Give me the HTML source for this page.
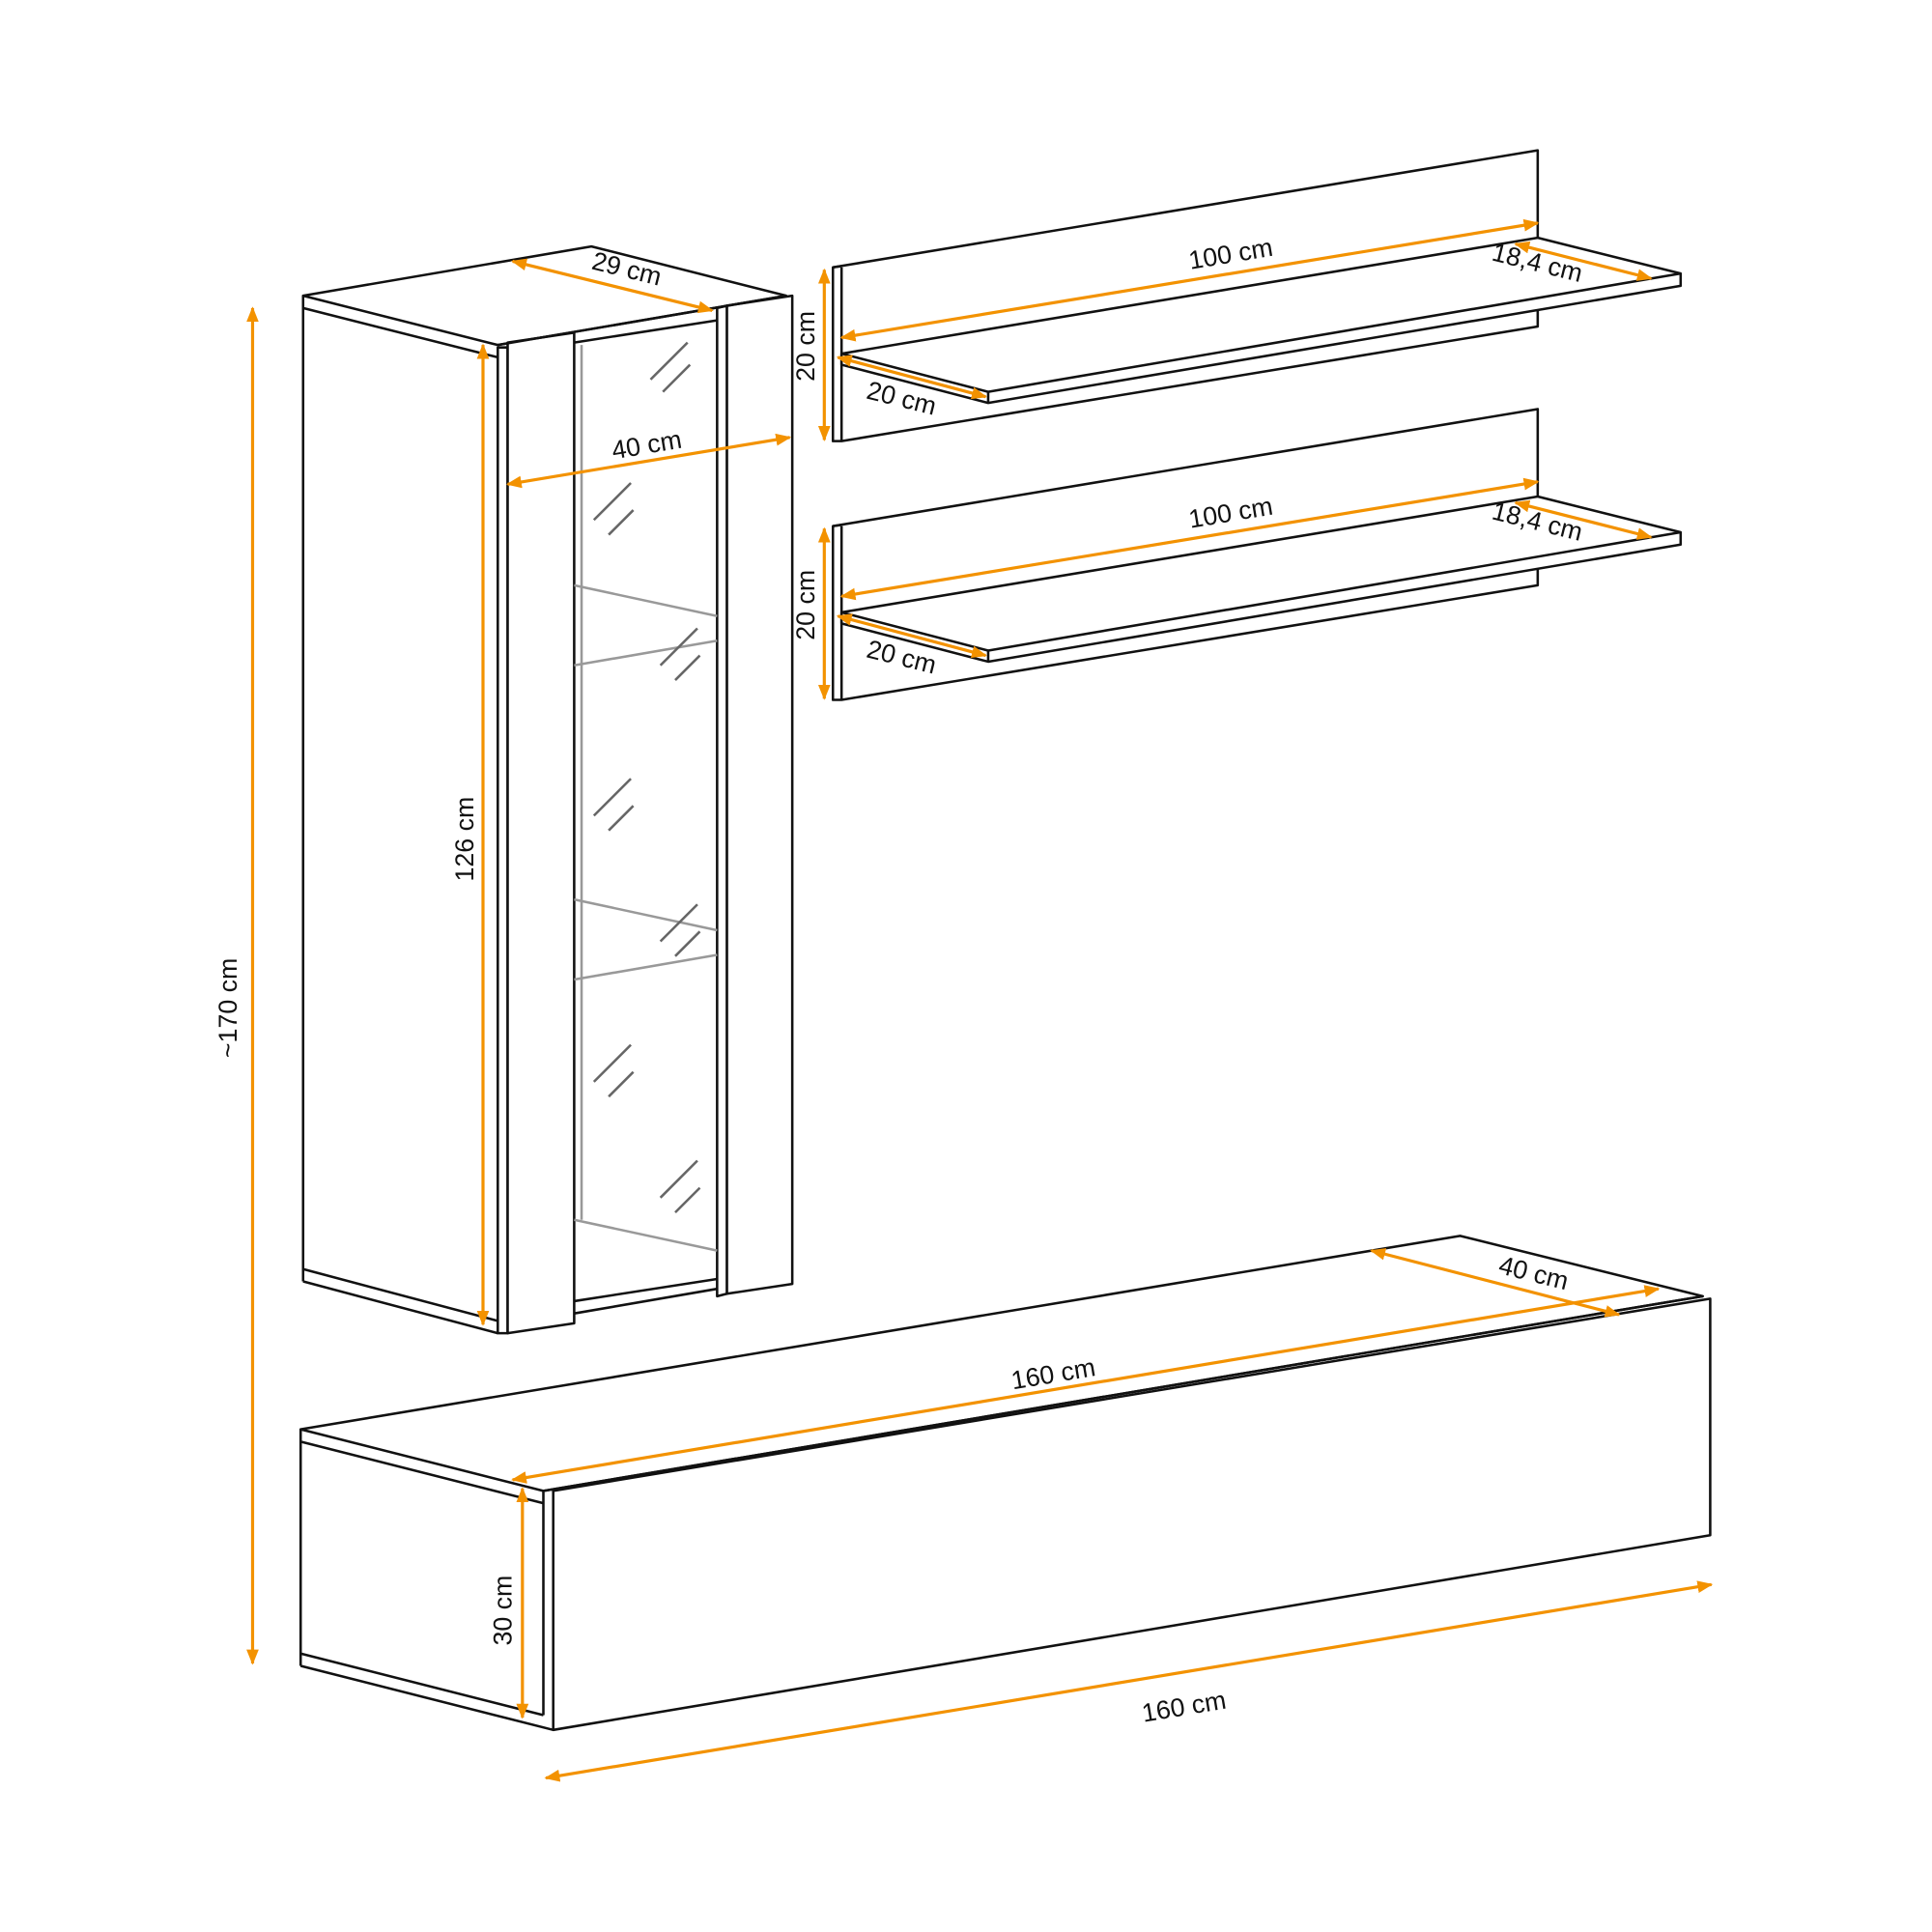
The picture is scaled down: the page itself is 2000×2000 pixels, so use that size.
<!DOCTYPE html>
<html><head><meta charset="utf-8"><style>
html,body{margin:0;padding:0;background:#fff}
svg{display:block}
text{font-family:"Liberation Sans",sans-serif;font-size:21px;fill:#111}
</style></head><body>
<svg width="2000" height="2000" viewBox="0 0 1568 1568" xmlns="http://www.w3.org/2000/svg">
<defs>
<marker id="a" viewBox="0 0 10 10" refX="9" refY="5" markerWidth="5" markerHeight="5" orient="auto-start-reverse"><path d="M0,1 L10,5 L0,9 z" fill="#f39200"/></marker>
</defs>
<g fill="none" stroke="#111" stroke-width="2" stroke-linejoin="round">
<polygon points="246,240 480,200 638,240 404,280" fill="#fff"/>
<line x1="246" y1="250" x2="404" y2="290"/>
<line x1="246" y1="240" x2="246" y2="1040"/>
<line x1="246" y1="1030" x2="404" y2="1072"/>
<line x1="246" y1="1040" x2="404" y2="1082"/>
<rect x="404" y="282" width="8" height="800"/>
<polygon points="412,278 466,270 466,1074 412,1082" fill="#fff"/>
<line x1="466" y1="278" x2="582" y2="260"/>
<line x1="466" y1="1056" x2="582" y2="1038"/>
<line x1="466" y1="1066" x2="582" y2="1046"/>
<polygon points="582,250 590,248 590,1050 582,1052"/>
<polygon points="590,248 643,240 643,1042 590,1050" fill="#fff"/>
<line x1="404" y1="280" x2="638" y2="240"/>
</g>
<g stroke="#999" stroke-width="2" fill="none">
<line x1="472" y1="280" x2="472" y2="990"/>
<line x1="466" y1="475" x2="582" y2="500"/>
<line x1="466" y1="540" x2="582" y2="520"/>
<line x1="466" y1="730" x2="582" y2="755"/>
<line x1="466" y1="795" x2="582" y2="775"/>
<line x1="466" y1="990" x2="582" y2="1015"/>
</g>
<g stroke="#666" stroke-width="2">
<path d="M528,308 l30,-30 M538,318 l22,-22 M482,422 l30,-30 M494,434 l20,-20 M536,540 l30,-30 M548,552 l20,-20 M482,662 l30,-30 M494,674 l20,-20 M536,764 l30,-30 M548,776 l20,-20 M482,878 l30,-30 M494,890 l20,-20 M536,972 l30,-30 M548,984 l20,-20"/>
</g>
<g fill="#fff" stroke="#111" stroke-width="2" stroke-linejoin="round">
<g id="sh">
<polygon points="676,217 1248,122 1248,265 683,358 676,358"/>
<line x1="683" y1="217" x2="683" y2="358"/>
<line x1="676" y1="217" x2="683" y2="216"/>
<polygon points="683,287 1248,193 1364,222 1364,232 802,327 683,296"/>
<line x1="802" y1="318" x2="1364" y2="222"/>
<line x1="802" y1="318" x2="802" y2="327"/>
<line x1="683" y1="287" x2="802" y2="318"/>
</g>
<use href="#sh" transform="translate(0,210)"/>
<polygon points="244,1160 1185,1003 1382,1052 441,1210"/>
<line x1="244" y1="1170" x2="441" y2="1220"/>
<line x1="244" y1="1160" x2="244" y2="1352"/>
<line x1="244" y1="1342" x2="441" y2="1392"/>
<line x1="244" y1="1352" x2="449" y2="1404"/>
<line x1="441" y1="1210" x2="441" y2="1392"/>
<polygon points="449,1210 1388,1054 1388,1246 449,1404"/>
<line x1="441" y1="1210" x2="1382" y2="1052"/>
</g>
<g stroke="#f39200" stroke-width="2.5" marker-start="url(#a)" marker-end="url(#a)">
<line x1="205" y1="250" x2="205" y2="1350"/>
<line x1="392" y1="280" x2="392" y2="1075"/>
<line x1="416" y1="212" x2="578" y2="252"/>
<line x1="412" y1="393" x2="641" y2="355"/>
<line x1="669" y1="219" x2="669" y2="357"/>
<line x1="683" y1="274" x2="1248" y2="181"/>
<line x1="1230" y1="198" x2="1340" y2="226"/>
<line x1="680" y1="290" x2="800" y2="322"/>
<line x1="669" y1="429" x2="669" y2="567"/>
<line x1="683" y1="484" x2="1248" y2="391"/>
<line x1="1230" y1="408" x2="1340" y2="436"/>
<line x1="680" y1="500" x2="800" y2="532"/>
<line x1="1113" y1="1015" x2="1314" y2="1067"/>
<line x1="416" y1="1201" x2="1346" y2="1046"/>
<line x1="424" y1="1208" x2="424" y2="1394"/>
<line x1="443" y1="1443" x2="1389" y2="1286"/>
</g>
<g>
<text transform="translate(192,818) rotate(-90)" text-anchor="middle">~170 cm</text>
<text transform="translate(384,681) rotate(-90)" text-anchor="middle">126 cm</text>
<text transform="translate(507,225) rotate(14)" text-anchor="middle">29 cm</text>
<text transform="translate(526,368) rotate(-9.5)" text-anchor="middle">40 cm</text>
<text transform="translate(661,281) rotate(-90)" text-anchor="middle">20 cm</text>
<text transform="translate(1000,213) rotate(-9.5)" text-anchor="middle">100 cm</text>
<text transform="translate(1246,220) rotate(14)" text-anchor="middle">18,4 cm</text>
<text transform="translate(730,330) rotate(14)" text-anchor="middle">20 cm</text>
<text transform="translate(661,491) rotate(-90)" text-anchor="middle">20 cm</text>
<text transform="translate(1000,423) rotate(-9.5)" text-anchor="middle">100 cm</text>
<text transform="translate(1246,430) rotate(14)" text-anchor="middle">18,4 cm</text>
<text transform="translate(730,540) rotate(14)" text-anchor="middle">20 cm</text>
<text transform="translate(1243,1040) rotate(14)" text-anchor="middle">40 cm</text>
<text transform="translate(856,1122) rotate(-9.5)" text-anchor="middle">160 cm</text>
<text transform="translate(415,1307) rotate(-90)" text-anchor="middle">30 cm</text>
<text transform="translate(962,1392) rotate(-9.5)" text-anchor="middle">160 cm</text>
</g>
</svg>
</body></html>
